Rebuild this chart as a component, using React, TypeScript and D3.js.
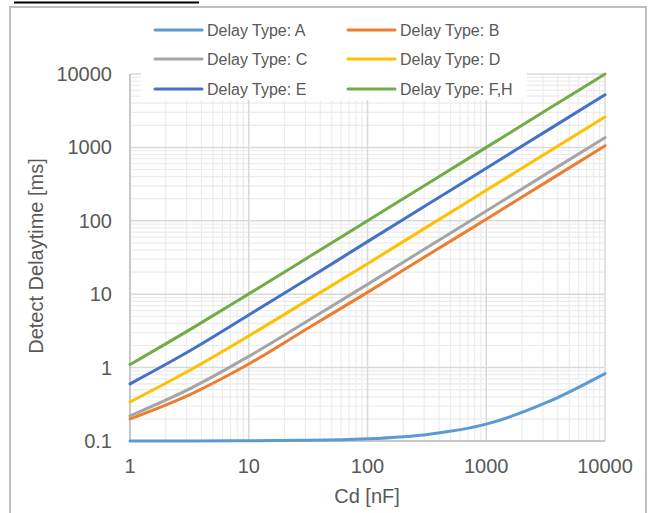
import React, { useEffect, useRef } from "react";
import * as d3 from "d3";

// capacitance points (nF) and detect delay per type (ms)
const cdValues = [1, 3.3, 10, 33, 100, 330, 1000, 3300, 10000];
const delayA = [0.1, 0.1, 0.101, 0.102, 0.107, 0.124, 0.17, 0.34, 0.83];
const delayB = [0.2, 0.44, 1.12, 3.6, 10.6, 35, 105, 347, 1050];
const delayC = [0.22, 0.53, 1.42, 4.55, 13.6, 45, 136, 450, 1360];
const delayD = [0.34, 0.95, 2.7, 8.7, 26, 86, 260, 860, 2600];
const delayE = [0.6, 1.75, 5.2, 17, 52, 172, 520, 1720, 5200];
const delayFH = [1.1, 3.4, 10.1, 33.1, 100, 330, 1000, 3300, 10000];

const seriesNames = [
  "Delay Type: A",
  "Delay Type: B",
  "Delay Type: C",
  "Delay Type: D",
  "Delay Type: E",
  "Delay Type: F,H",
];
const seriesColors = ["#5B9BD5", "#ED7D31", "#A5A5A5", "#FFC000", "#4472C4", "#70AD47"];

const xTicks = [1, 10, 100, 1000, 10000];
const xTickLabels = ["1", "10", "100", "1000", "10000"];
const yTicks = [0.1, 1, 10, 100, 1000, 10000];
const yTickLabels = ["0.1", "1", "10", "100", "1000", "10000"];

const xTitle = "Cd [nF]";
const yTitle = "Detect Delaytime [ms]";

const W = 652;
const H = 513;
const FONT = "'Liberation Sans', Arial, sans-serif";
const TEXT = "#595959";

export default function App() {
  const ref = useRef<SVGSVGElement | null>(null);

  useEffect(() => {
    const svg = d3.select(ref.current);
    svg.selectAll("*").remove();

    const plot = { left: 130, right: 605, top: 74, bottom: 441 };
    const x = d3.scaleLog().domain([1, 10000]).range([plot.left, plot.right]);
    const y = d3.scaleLog().domain([0.1, 10000]).range([plot.bottom, plot.top]);

    svg.append("rect").attr("width", W).attr("height", H).attr("fill", "#fff");

    // cut-off caption underline and chart frame
    svg.append("line")
      .attr("x1", 14).attr("x2", 199).attr("y1", 2.5).attr("y2", 2.5)
      .attr("stroke", "#000").attr("stroke-width", 2);
    svg.append("rect")
      .attr("x", 10).attr("y", 7).attr("width", 636).attr("height", H + 10)
      .attr("fill", "none").attr("stroke", "#bfbfbf").attr("stroke-width", 2);

    const grid = svg.append("g");

    // minor gridlines
    const minorX: number[] = [];
    for (let d = 1; d < 10000; d *= 10) for (let k = 2; k <= 9; k++) minorX.push(d * k);
    const minorY: number[] = [];
    for (let d = 0.1; d < 5000; d *= 10) for (let k = 2; k <= 9; k++) minorY.push(d * k);

    grid.selectAll(".minor-x").data(minorX).join("line")
      .attr("class", "minor-x")
      .attr("x1", (d) => x(d)).attr("x2", (d) => x(d))
      .attr("y1", plot.top).attr("y2", plot.bottom)
      .attr("stroke", "#ececec").attr("stroke-width", 1.2);
    grid.selectAll(".minor-y").data(minorY).join("line")
      .attr("class", "minor-y")
      .attr("x1", plot.left).attr("x2", plot.right)
      .attr("y1", (d) => y(d)).attr("y2", (d) => y(d))
      .attr("stroke", "#ececec").attr("stroke-width", 1.2);

    // major gridlines
    grid.selectAll(".major-x").data(xTicks).join("line")
      .attr("class", "major-x")
      .attr("x1", (d) => x(d)).attr("x2", (d) => x(d))
      .attr("y1", plot.top).attr("y2", plot.bottom)
      .attr("stroke", "#d9d9d9").attr("stroke-width", 1.5);
    grid.selectAll(".major-y").data(yTicks).join("line")
      .attr("class", "major-y")
      .attr("x1", plot.left).attr("x2", plot.right)
      .attr("y1", (d) => y(d)).attr("y2", (d) => y(d))
      .attr("stroke", "#d9d9d9").attr("stroke-width", 1.5);

    // axis lines
    svg.append("line")
      .attr("x1", plot.left).attr("x2", plot.left).attr("y1", plot.top).attr("y2", plot.bottom)
      .attr("stroke", "#bfbfbf").attr("stroke-width", 1.5);
    svg.append("line")
      .attr("x1", plot.left).attr("x2", plot.right).attr("y1", plot.bottom).attr("y2", plot.bottom)
      .attr("stroke", "#bfbfbf").attr("stroke-width", 1.5);

    // tick labels
    svg.selectAll(".y-label").data(yTicks).join("text")
      .attr("class", "y-label")
      .attr("x", 112).attr("y", (d) => y(d))
      .attr("dy", "0.35em")
      .attr("text-anchor", "end")
      .attr("font-family", FONT).attr("font-size", 20).attr("fill", TEXT)
      .text((d, i) => yTickLabels[i]);
    svg.selectAll(".x-label").data(xTicks).join("text")
      .attr("class", "x-label")
      .attr("x", (d) => x(d)).attr("y", 466)
      .attr("dy", "0.35em")
      .attr("text-anchor", "middle")
      .attr("font-family", FONT).attr("font-size", 20).attr("fill", TEXT)
      .text((d, i) => xTickLabels[i]);

    // axis titles
    svg.append("text")
      .attr("x", 367).attr("y", 496).attr("dy", "0.35em")
      .attr("text-anchor", "middle")
      .attr("font-family", FONT).attr("font-size", 20).attr("fill", TEXT)
      .text(xTitle);
    svg.append("text")
      .attr("transform", "translate(36, 256) rotate(-90)")
      .attr("dy", "0.35em")
      .attr("text-anchor", "middle")
      .attr("font-family", FONT).attr("font-size", 20).attr("fill", TEXT)
      .text(yTitle);

    // lines
    const allSeries = [delayA, delayB, delayC, delayD, delayE, delayFH];
    const lineGen = d3.line<number>()
      .x((d, i) => x(cdValues[i]))
      .y((d) => y(d))
      .curve(d3.curveMonotoneX);

    svg.append("g").selectAll(".series").data(allSeries).join("path")
      .attr("class", "series")
      .attr("d", (d) => lineGen(d))
      .attr("fill", "none")
      .attr("stroke", (d, i) => seriesColors[i])
      .attr("stroke-width", 3)
      .attr("stroke-linecap", "round");

    // legend with white box over the grid
    const legend = svg.append("g");
    legend.append("rect")
      .attr("x", 141).attr("y", 12).attr("width", 386).attr("height", 88)
      .attr("fill", "#fff");
    const rowY = [30, 59, 89];
    const colX = [155, 348];
    seriesNames.forEach((name, i) => {
      const lx = colX[i % 2];
      const ly = rowY[Math.floor(i / 2)];
      legend.append("line")
        .attr("x1", lx).attr("x2", lx + 47).attr("y1", ly).attr("y2", ly)
        .attr("stroke", seriesColors[i]).attr("stroke-width", 3).attr("stroke-linecap", "round");
      legend.append("text")
        .attr("x", lx + 52).attr("y", ly).attr("dy", "0.35em")
        .attr("font-family", FONT).attr("font-size", 16).attr("fill", TEXT)
        .text(name);
    });
  }, []);

  return (
    <svg
      ref={ref}
      width={W}
      height={H}
      style={{ position: "absolute", left: 0, top: 0, display: "block" }}
    />
  );
}
